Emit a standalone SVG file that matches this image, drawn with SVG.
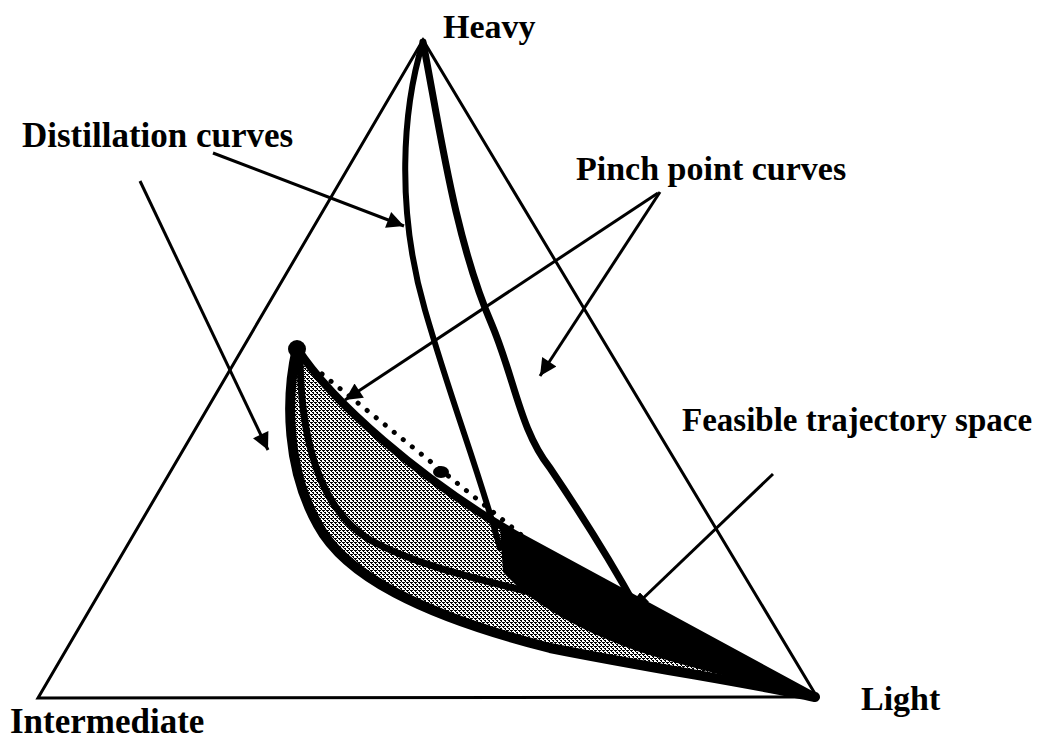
<svg xmlns="http://www.w3.org/2000/svg" width="1042" height="742" viewBox="0 0 1042 742">
<style>
.lbl{font-family:"Liberation Serif","Times New Roman",serif;font-weight:bold;font-size:34px;fill:#000}
.side{fill:none;stroke:#000;stroke-width:3;stroke-linejoin:miter}
.thick{fill:none;stroke:#000;stroke-linecap:round;stroke-linejoin:round}
.arrow{fill:none;stroke:#000;stroke-width:3}
</style>
<defs>
<pattern id="stip" width="4" height="4" patternUnits="userSpaceOnUse">
<rect width="4" height="4" fill="#fff"/>
<rect x="0" y="0" width="2" height="1" fill="#000"/>
<rect x="2" y="2" width="2" height="1" fill="#000"/>
<rect x="1" y="1" width="1" height="1" fill="#000"/>
<rect x="3" y="3" width="1" height="1" fill="#000"/>
<rect x="0" y="2" width="1" height="1" fill="#000"/>
</pattern>
<marker id="ah" viewBox="0 0 10 10" refX="10" refY="5" markerWidth="26" markerHeight="17" markerUnits="userSpaceOnUse" orient="auto"><path d="M0,0 L10,5 L0,10 z" fill="#000"/></marker>
<marker id="ahs" viewBox="0 0 10 10" refX="10" refY="5" markerWidth="13" markerHeight="13" markerUnits="userSpaceOnUse" orient="auto"><path d="M0,0 L10,2 L10,8 L0,10 z" fill="#000"/></marker>
</defs>
<rect width="1042" height="742" fill="#fff"/>

<g id="triangle">
<path class="side" d="M423,40 L38,698 L817,697 Z"/>
</g>

<g id="feasible-region">
<path d="M297,348 C285,400 287,470 318,525 C345,575 420,615 550,648 C650,668 750,683 815,697 L520,537 C420,480 330,400 297,348 Z" fill="url(#stip)"/>
<path d="M500,528 L815,697 C760,685 690,668 640,652 C590,635 535,608 503,572 Z" fill="#000"/>
<path class="thick" stroke-width="10" d="M297,348 C285,400 287,470 318,525 C345,575 420,615 550,648 C650,668 750,683 815,697"/>
<path class="thick" stroke-width="7" d="M300,352 C300,440 320,510 370,540 C410,562 460,575 530,592"/>
<path class="thick" stroke-width="8" d="M297,348 C330,400 420,480 520,537 L815,697"/>
<circle cx="297" cy="349" r="9" fill="#000"/>
<line x1="322" y1="374" x2="545" y2="554" stroke="#000" stroke-width="5" stroke-linecap="round" stroke-dasharray="0.1 11.5"/>
<ellipse cx="441" cy="472" rx="8" ry="6" fill="#000"/>
</g>

<g id="heavy-curves">
<path class="thick" stroke-width="6" d="M423,42 C402,110 396,210 425,310 S476,462 500,548"/>
<path class="thick" stroke-width="7" d="M423,42 C440,130 455,240 492,325 C515,380 520,430 550,468 C575,505 610,560 636,607"/>
</g>

<g id="connectors">
<line class="arrow" x1="213" y1="153" x2="404" y2="226" marker-end="url(#ah)"/>
<line class="arrow" x1="140" y1="181" x2="268" y2="450" marker-end="url(#ah)"/>
<line class="arrow" x1="660" y1="192" x2="540" y2="376" marker-end="url(#ah)"/>
<line class="arrow" x1="658" y1="193" x2="345" y2="400" marker-end="url(#ah)"/>
<line class="arrow" x1="773" y1="474" x2="635" y2="606" marker-end="url(#ahs)"/>
</g>

<g id="node-heavy"><text class="lbl" x="443" y="38">Heavy</text></g>
<g id="node-intermediate"><text class="lbl" x="10" y="733" style="font-size:35px">Intermediate</text></g>
<g id="node-light"><text class="lbl" x="861" y="710">Light</text></g>
<g id="label-distillation"><text class="lbl" x="22" y="147" style="font-size:35px">Distillation curves</text></g>
<g id="label-pinch"><text class="lbl" x="576" y="180">Pinch point curves</text></g>
<g id="label-feasible"><text class="lbl" x="682" y="431" style="font-size:33px">Feasible trajectory space</text></g>
</svg>
